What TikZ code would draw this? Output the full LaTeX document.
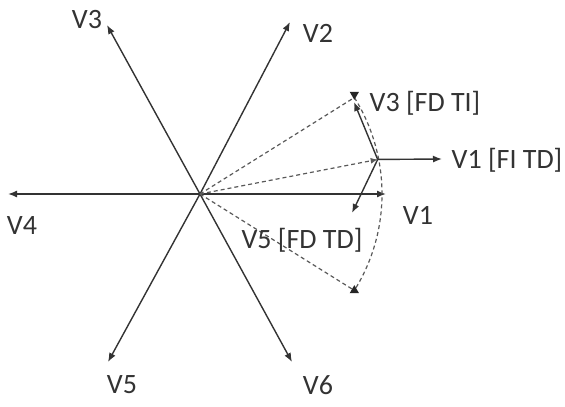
\documentclass[tikz,border=0pt]{standalone}
\usepackage{fontspec}
\setmainfont{Carlito}
\usetikzlibrary{arrows.meta,calc,shapes.geometric}
\begin{document}
\begin{tikzpicture}[x=1pt,y=1pt,
  vec/.style={draw=black!80,line width=1.4pt,-{Latex[length=9pt,width=7pt]}},
  dvec/.style={draw=black!80,line width=1.4pt,{Latex[length=9pt,width=7pt]}-{Latex[length=9pt,width=7pt]}},
  dline/.style={draw=black!65,line width=1.2pt,dash pattern=on 4pt off 3pt},
  lbl/.style={font=\fontsize{28}{30}\selectfont,text=black!80,inner sep=0pt},
  tri/.style={fill=black!85,isosceles triangle,isosceles triangle apex angle=60,minimum height=8pt,inner sep=0pt}]
\useasboundingbox (0,0) rectangle (565,407);
\coordinate (O) at (200,213);
\coordinate (V4t) at (8,213);
\coordinate (V1t) at (386,213);
\coordinate (V3t) at (107,382);
\coordinate (V6t) at (292,45);
\coordinate (V2t) at (290,385);
\coordinate (V5t) at (108,45);
\coordinate (A) at ($(O)+(32:182)$);
\coordinate (P) at ($(O)+(11:181)$);
\coordinate (B) at ($(O)+(-32:182)$);
\coordinate (R) at (442,248);
\coordinate (Pa) at (354,305);
\coordinate (Pl) at (352,194);
% main axes
\draw[dvec] (V4t) -- (V1t);
\draw[vec] (O) -- (V3t);
\draw[vec] (O) -- (V6t);
\draw[vec] (O) -- (V2t);
\draw[vec] (O) -- (V5t);
% dashed
\draw[dline] (O) -- (A);
\draw[dline] (O) -- (B);
\draw[dline,-{Latex[length=7pt,width=6pt]}] (O) -- (P);
\draw[dline] (A) arc[start angle=32,end angle=-32,radius=182];
\node[tri,shape border rotate=-90] (ta) at ($(A)+(0,3)$) {};
\node[tri,shape border rotate=90] (tb) at (B) {};
% vectors from P
\draw[vec] (P) -- (R);
\draw[vec] (P) -- (Pa);
\draw[vec] (P) -- (Pl);
% labels
\node[lbl] (l1) at (425,304) {V3 [FD TI]};
\node[lbl] (l2) at (507,247) {V1 [FI TD]};
\node[lbl] (l3) at (418,192) {V1};
\node[lbl] (l4) at (302,167) {V5 [FD TD]};
\node[lbl] (l5) at (22,181) {V4};
\node[lbl] (l6) at (87,387) {V3};
\node[lbl] (l7) at (318,374) {V2};
\node[lbl] (l8) at (122,22) {V5};
\node[lbl] (l9) at (318,22) {V6};
\end{tikzpicture}
\end{document}
